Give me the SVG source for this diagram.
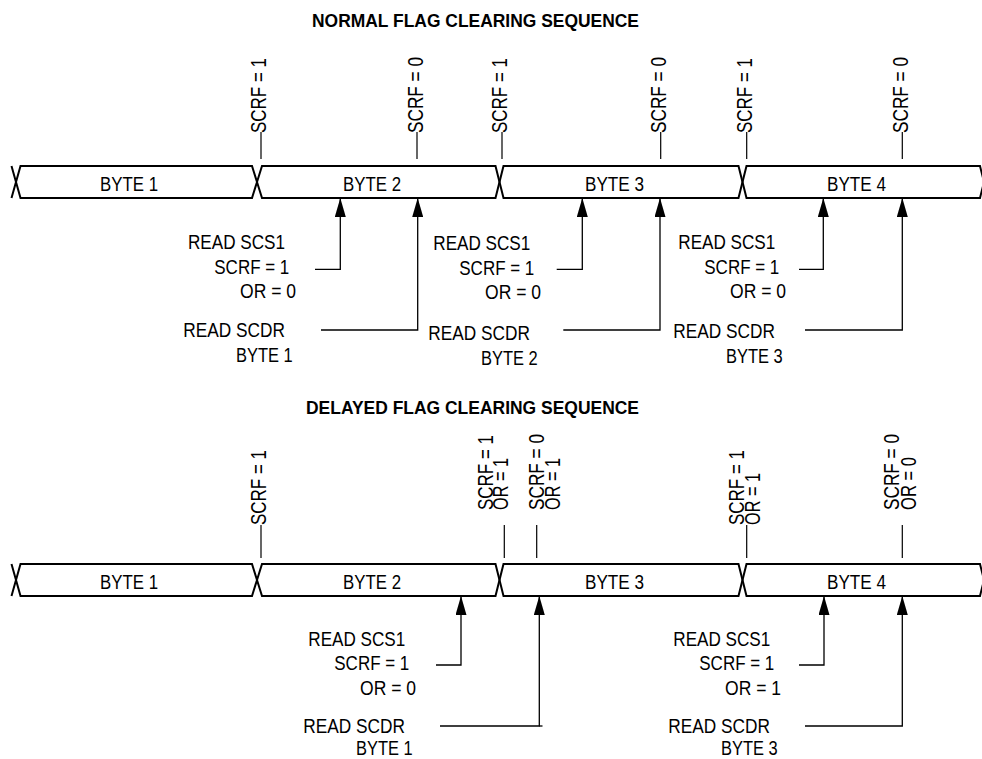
<svg xmlns="http://www.w3.org/2000/svg" width="982" height="759" viewBox="0 0 982 759">
<style>
text{font-family:"Liberation Sans",Arial,sans-serif;fill:#000}
.t{font-size:20px}
.v{font-size:22px}
.h{font-size:19px;font-weight:bold}
.band{fill:none;stroke:#000;stroke-width:2;stroke-linejoin:miter}
.mk{stroke:#000;stroke-width:1.2;fill:none}
.ld{stroke:#000;stroke-width:1.3;fill:none;marker-end:url(#ah)}
</style>
<defs>
<marker id="ah" viewBox="0 0 19 11" refX="19" refY="5.5" markerWidth="19" markerHeight="11" markerUnits="userSpaceOnUse" orient="auto">
<path d="M0,0 L19,5.5 L0,11 z" fill="#000"/>
</marker>
</defs>

<text class="h" x="312" y="26.5" textLength="327" lengthAdjust="spacingAndGlyphs">NORMAL FLAG CLEARING SEQUENCE</text>
<text class="h" x="306" y="414" textLength="333" lengthAdjust="spacingAndGlyphs">DELAYED FLAG CLEARING SEQUENCE</text>

<!-- NORMAL: bytes -->
<g id="n-byte0"><path class="band" d="M11.5,166 L16,182 L11.5,198"/></g>
<g id="n-byte1"><path class="band" d="M16,182 L20.5,166 L252,166 L257,182 L252,198 L20.5,198 Z"/><text class="t" x="100" y="191" textLength="58" lengthAdjust="spacingAndGlyphs">BYTE 1</text></g>
<g id="n-byte2"><path class="band" d="M257,182 L262,166 L495.5,166 L499.5,182 L495.5,198 L262,198 Z"/><text class="t" x="343" y="191" textLength="58" lengthAdjust="spacingAndGlyphs">BYTE 2</text></g>
<g id="n-byte3"><path class="band" d="M499.5,182 L503.5,166 L738.5,166 L742.5,182 L738.5,198 L503.5,198 Z"/><text class="t" x="585" y="191" textLength="59" lengthAdjust="spacingAndGlyphs">BYTE 3</text></g>
<g id="n-byte4"><path class="band" d="M742.5,182 L746.5,166 L980,166 L984,182 L980,198 L746.5,198 Z"/><text class="t" x="827" y="191" textLength="59" lengthAdjust="spacingAndGlyphs">BYTE 4</text></g>

<!-- NORMAL: status markers -->
<g id="n-m1"><line class="mk" x1="261" y1="132" x2="261" y2="159"/><text class="v" transform="translate(266,133) rotate(-90)" textLength="75" lengthAdjust="spacingAndGlyphs">SCRF = 1</text></g>
<g id="n-m2"><line class="mk" x1="417" y1="132" x2="417" y2="159"/><text class="v" transform="translate(422.5,133) rotate(-90)" textLength="76" lengthAdjust="spacingAndGlyphs">SCRF = 0</text></g>
<g id="n-m3"><line class="mk" x1="502" y1="132" x2="502" y2="159"/><text class="v" transform="translate(507,133) rotate(-90)" textLength="75" lengthAdjust="spacingAndGlyphs">SCRF = 1</text></g>
<g id="n-m4"><line class="mk" x1="660.7" y1="132" x2="660.7" y2="159"/><text class="v" transform="translate(666,133) rotate(-90)" textLength="76" lengthAdjust="spacingAndGlyphs">SCRF = 0</text></g>
<g id="n-m5"><line class="mk" x1="746.7" y1="132" x2="746.7" y2="159"/><text class="v" transform="translate(751.5,133) rotate(-90)" textLength="75" lengthAdjust="spacingAndGlyphs">SCRF = 1</text></g>
<g id="n-m6"><line class="mk" x1="902.3" y1="132" x2="902.3" y2="159"/><text class="v" transform="translate(907.5,133) rotate(-90)" textLength="76" lengthAdjust="spacingAndGlyphs">SCRF = 0</text></g>

<!-- NORMAL: read labels -->
<g id="n-r1">
<text class="t" x="188" y="248.5" textLength="97" lengthAdjust="spacingAndGlyphs">READ SCS1</text>
<text class="t" x="214.3" y="273.5" textLength="75" lengthAdjust="spacingAndGlyphs">SCRF = 1</text>
<text class="t" x="240" y="297.5" textLength="56" lengthAdjust="spacingAndGlyphs">OR = 0</text>
</g>
<g id="n-d1">
<text class="t" x="183.3" y="336.5" textLength="101.7" lengthAdjust="spacingAndGlyphs">READ SCDR</text>
<text class="t" x="236" y="361.5" textLength="56.7" lengthAdjust="spacingAndGlyphs">BYTE 1</text>
</g>
<g id="n-r2">
<text class="t" x="433.3" y="249.5" textLength="97" lengthAdjust="spacingAndGlyphs">READ SCS1</text>
<text class="t" x="459.3" y="274.5" textLength="75" lengthAdjust="spacingAndGlyphs">SCRF = 1</text>
<text class="t" x="485" y="298.5" textLength="56" lengthAdjust="spacingAndGlyphs">OR = 0</text>
</g>
<g id="n-d2">
<text class="t" x="428.3" y="340" textLength="101.7" lengthAdjust="spacingAndGlyphs">READ SCDR</text>
<text class="t" x="481" y="365" textLength="56.7" lengthAdjust="spacingAndGlyphs">BYTE 2</text>
</g>
<g id="n-r3">
<text class="t" x="678.3" y="249" textLength="97" lengthAdjust="spacingAndGlyphs">READ SCS1</text>
<text class="t" x="704.3" y="274" textLength="75" lengthAdjust="spacingAndGlyphs">SCRF = 1</text>
<text class="t" x="730" y="298" textLength="56" lengthAdjust="spacingAndGlyphs">OR = 0</text>
</g>
<g id="n-d3">
<text class="t" x="673.3" y="338" textLength="101.7" lengthAdjust="spacingAndGlyphs">READ SCDR</text>
<text class="t" x="726" y="363" textLength="56.7" lengthAdjust="spacingAndGlyphs">BYTE 3</text>
</g>

<!-- DELAYED: bytes -->
<g id="d-byte0"><path class="band" d="M11.5,564 L16,580 L11.5,596"/></g>
<g id="d-byte1"><path class="band" d="M16,580 L20.5,564 L252,564 L257,580 L252,596 L20.5,596 Z"/><text class="t" x="100" y="588.5" textLength="58" lengthAdjust="spacingAndGlyphs">BYTE 1</text></g>
<g id="d-byte2"><path class="band" d="M257,580 L262,564 L495.5,564 L499.5,580 L495.5,596 L262,596 Z"/><text class="t" x="343" y="588.5" textLength="58" lengthAdjust="spacingAndGlyphs">BYTE 2</text></g>
<g id="d-byte3"><path class="band" d="M499.5,580 L503.5,564 L738.5,564 L742.5,580 L738.5,596 L503.5,596 Z"/><text class="t" x="585" y="588.5" textLength="59" lengthAdjust="spacingAndGlyphs">BYTE 3</text></g>
<g id="d-byte4"><path class="band" d="M742.5,580 L746.5,564 L980,564 L984,580 L980,596 L746.5,596 Z"/><text class="t" x="827" y="588.5" textLength="59" lengthAdjust="spacingAndGlyphs">BYTE 4</text></g>

<!-- DELAYED: status markers -->
<g id="d-m1"><line class="mk" x1="261" y1="525" x2="261" y2="558"/><text class="v" transform="translate(266,525) rotate(-90)" textLength="75" lengthAdjust="spacingAndGlyphs">SCRF = 1</text></g>
<g id="d-m2"><line class="mk" x1="504.3" y1="525" x2="504.3" y2="558"/>
<text class="v" transform="translate(492.5,510) rotate(-90)" textLength="75" lengthAdjust="spacingAndGlyphs">SCRF = 1</text>
<text class="v" transform="translate(508,510) rotate(-90)" textLength="52" lengthAdjust="spacingAndGlyphs">OR = 1</text></g>
<g id="d-m3"><line class="mk" x1="536.7" y1="525" x2="536.7" y2="558"/>
<text class="v" transform="translate(544,510) rotate(-90)" textLength="76" lengthAdjust="spacingAndGlyphs">SCRF = 0</text>
<text class="v" transform="translate(559.5,510) rotate(-90)" textLength="52" lengthAdjust="spacingAndGlyphs">OR = 1</text></g>
<g id="d-m4"><line class="mk" x1="746.7" y1="525" x2="746.7" y2="558"/>
<text class="v" transform="translate(744,525) rotate(-90)" textLength="75" lengthAdjust="spacingAndGlyphs">SCRF = 1</text>
<text class="v" transform="translate(759.5,525) rotate(-90)" textLength="52" lengthAdjust="spacingAndGlyphs">OR = 1</text></g>
<g id="d-m5"><line class="mk" x1="902.3" y1="525" x2="902.3" y2="558"/>
<text class="v" transform="translate(899,510) rotate(-90)" textLength="76" lengthAdjust="spacingAndGlyphs">SCRF = 0</text>
<text class="v" transform="translate(915.5,510) rotate(-90)" textLength="53" lengthAdjust="spacingAndGlyphs">OR = 0</text></g>

<!-- DELAYED: read labels -->
<g id="d-r1">
<text class="t" x="308.3" y="646" textLength="97" lengthAdjust="spacingAndGlyphs">READ SCS1</text>
<text class="t" x="334.3" y="670" textLength="75" lengthAdjust="spacingAndGlyphs">SCRF = 1</text>
<text class="t" x="360" y="695" textLength="56" lengthAdjust="spacingAndGlyphs">OR = 0</text>
</g>
<g id="d-d1">
<text class="t" x="303.3" y="733" textLength="101.7" lengthAdjust="spacingAndGlyphs">READ SCDR</text>
<text class="t" x="356" y="755" textLength="56.7" lengthAdjust="spacingAndGlyphs">BYTE 1</text>
</g>
<g id="d-r2">
<text class="t" x="673.3" y="646" textLength="97" lengthAdjust="spacingAndGlyphs">READ SCS1</text>
<text class="t" x="699.3" y="670" textLength="75" lengthAdjust="spacingAndGlyphs">SCRF = 1</text>
<text class="t" x="725" y="695" textLength="56" lengthAdjust="spacingAndGlyphs">OR = 1</text>
</g>
<g id="d-d2">
<text class="t" x="668.3" y="733" textLength="101.7" lengthAdjust="spacingAndGlyphs">READ SCDR</text>
<text class="t" x="721" y="755" textLength="56.7" lengthAdjust="spacingAndGlyphs">BYTE 3</text>
</g>

<!-- connectors -->
<g id="connectors">
<path class="ld" d="M315,269.3 H340.3 V198"/>
<path class="ld" d="M321,330 H417.7 V198"/>
<path class="ld" d="M556.7,269.3 H582.3 V198"/>
<path class="ld" d="M563.3,330 H660 V198"/>
<path class="ld" d="M799,269.3 H823.3 V198"/>
<path class="ld" d="M805,330 H902.3 V198"/>
<path class="ld" d="M436,665 H461 V596"/>
<line class="mk" x1="539.3" y1="726" x2="542.5" y2="726" style="stroke-width:1.3"/>
<path class="ld" d="M440,726 H539.3 V596"/>
<path class="ld" d="M799,665 H824 V596"/>
<path class="ld" d="M805,726 H902.3 V596"/>
</g>
</svg>
